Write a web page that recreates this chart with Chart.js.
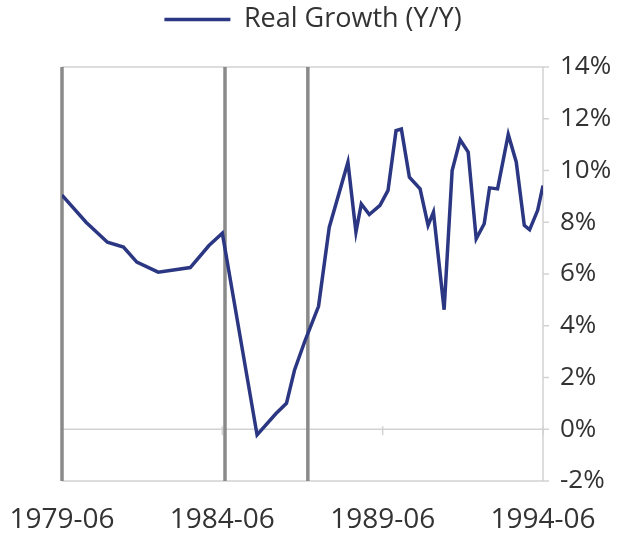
<!DOCTYPE html>
<html>
<head>
<meta charset="utf-8">
<script src="https://cdn.jsdelivr.net/npm/chart.js@4.4.1/dist/chart.umd.min.js"></script>
<style>
  html, body { margin: 0; padding: 0; background: #fff; }
  #wrap { width: 626px; height: 536px; }
</style>
</head>
<body>
<div id="wrap"><canvas id="chart"></canvas></div>
<script>
const seriesName = "Real Growth (Y/Y)";

const dates = [
  "1979-06", "1980-03", "1980-11", "1981-05", "1981-10", "1982-06", "1983-06", "1984-01",
  "1984-06", "1985-07", "1986-02", "1986-06", "1986-09", "1987-01", "1987-06", "1987-10",
  "1988-05", "1988-08", "1988-10", "1989-01", "1989-05", "1989-08", "1989-11", "1990-01",
  "1990-04", "1990-08", "1990-11", "1991-01", "1991-05", "1991-08", "1991-11", "1992-02",
  "1992-05", "1992-08", "1992-10", "1993-01", "1993-05", "1993-08", "1993-11", "1994-01",
  "1994-04", "1994-06"
];
const growth = [
  9.05, 8.0, 7.23, 7.04, 6.46, 6.07, 6.25, 7.1,
  7.58, -0.22, 0.6, 1.0, 2.28, 3.44, 4.75, 7.8,
  10.32, 7.62, 8.71, 8.3, 8.65, 9.23, 11.54, 11.6,
  9.74, 9.29, 7.88, 8.39, 4.62, 10.0, 11.19, 10.71,
  7.36, 7.94, 9.33, 9.29, 11.39, 10.32, 7.88, 7.71,
  8.46, 9.42
];

// dark vertical lines across the plot
const markerDates = ["1979-06", "1984-07", "1987-02"];
const xTickDates = ["1979-06", "1984-06", "1989-06", "1994-06"];
const yMin = -2, yMax = 14, yStep = 2;

const fontFamily = "'Open Sans', sans-serif";
const textColor = "#333333";
const lineColor = "#2b3782";

function monthIndex(d) {
  let [y, m] = d.split("-").map(Number);
  return (y - 1979) * 12 + (m - 6);
}

// extra room under the legend
const legendGap = {
  id: "legendGap",
  beforeInit(chart) {
    const fit = chart.legend.fit;
    chart.legend.fit = function () {
      fit.bind(chart.legend)();
      this.height += 24;
    };
  }
};

const framePlugin = {
  id: "frame",
  beforeDatasetsDraw(chart) {
    const ctx = chart.ctx;
    const area = chart.chartArea;
    const xs = chart.scales.x;
    const ys = chart.scales.y;
    ctx.save();
    // light frame: top, bottom, zero line, right axis
    ctx.strokeStyle = "#d2d2d2";
    ctx.lineWidth = 1.5;
    [yMax, 0, yMin].forEach(v => {
      let y = ys.getPixelForValue(v);
      ctx.beginPath();
      ctx.moveTo(area.left, y);
      ctx.lineTo(area.right, y);
      ctx.stroke();
    });
    ctx.beginPath();
    ctx.moveTo(area.right, area.top);
    ctx.lineTo(area.right, area.bottom);
    ctx.stroke();
    // right axis tick marks
    for (let v = yMin; v <= yMax; v += yStep) {
      let y = ys.getPixelForValue(v);
      ctx.beginPath();
      ctx.moveTo(area.right, y);
      ctx.lineTo(area.right + 6, y);
      ctx.stroke();
    }
    // x ticks on the zero line
    let y0 = ys.getPixelForValue(0);
    xTickDates.forEach(d => {
      let x = xs.getPixelForValue(monthIndex(d));
      ctx.beginPath();
      ctx.moveTo(x, y0 - 3);
      ctx.lineTo(x, y0 + 6);
      ctx.stroke();
    });
    // dark vertical markers
    ctx.strokeStyle = "#8a8a8a";
    ctx.lineWidth = 3.5;
    markerDates.forEach(d => {
      let x = xs.getPixelForValue(monthIndex(d));
      ctx.beginPath();
      ctx.moveTo(x, area.top);
      ctx.lineTo(x, area.bottom);
      ctx.stroke();
    });
    ctx.restore();
  }
};

new Chart(document.getElementById("chart"), {
  type: "line",
  data: {
    datasets: [{
      label: seriesName,
      data: dates.map((d, i) => ({ x: monthIndex(d), y: growth[i] })),
      borderColor: lineColor,
      backgroundColor: lineColor,
      borderWidth: 3.5,
      pointRadius: 0,
      tension: 0,
      fill: false
    }]
  },
  options: {
    responsive: true,
    maintainAspectRatio: false,
    animation: false,
    layout: { padding: 0 },
    plugins: {
      legend: {
        position: "top",
        labels: {
          color: textColor,
          font: { family: fontFamily, size: 27 },
          usePointStyle: true,
          pointStyle: "line",
          pointStyleWidth: 66,
          padding: 6
        }
      },
      tooltip: { enabled: false }
    },
    scales: {
      x: {
        type: "linear",
        min: monthIndex(xTickDates[0]),
        max: monthIndex(xTickDates[xTickDates.length - 1]),
        grid: { display: false, drawTicks: false },
        border: { display: false },
        afterBuildTicks: scale => {
          scale.ticks = xTickDates.map(d => ({ value: monthIndex(d) }));
        },
        afterFit: scale => {
          scale.height = 55;
          scale.paddingLeft = 62;
          scale.paddingRight = 0;
        },
        ticks: {
          color: textColor,
          font: { family: fontFamily, size: 28 },
          padding: 22,
          maxRotation: 0,
          callback: v => xTickDates.find(d => monthIndex(d) === v) || ""
        }
      },
      y: {
        position: "right",
        min: yMin,
        max: yMax,
        grid: { display: false, drawTicks: false },
        border: { display: false },
        afterFit: scale => { scale.width = 83; },
        ticks: {
          stepSize: yStep,
          color: textColor,
          font: { family: fontFamily, size: 26 },
          padding: 17,
          callback: v => v + "%"
        }
      }
    }
  },
  plugins: [legendGap, framePlugin]
});
</script>
</body>
</html>
